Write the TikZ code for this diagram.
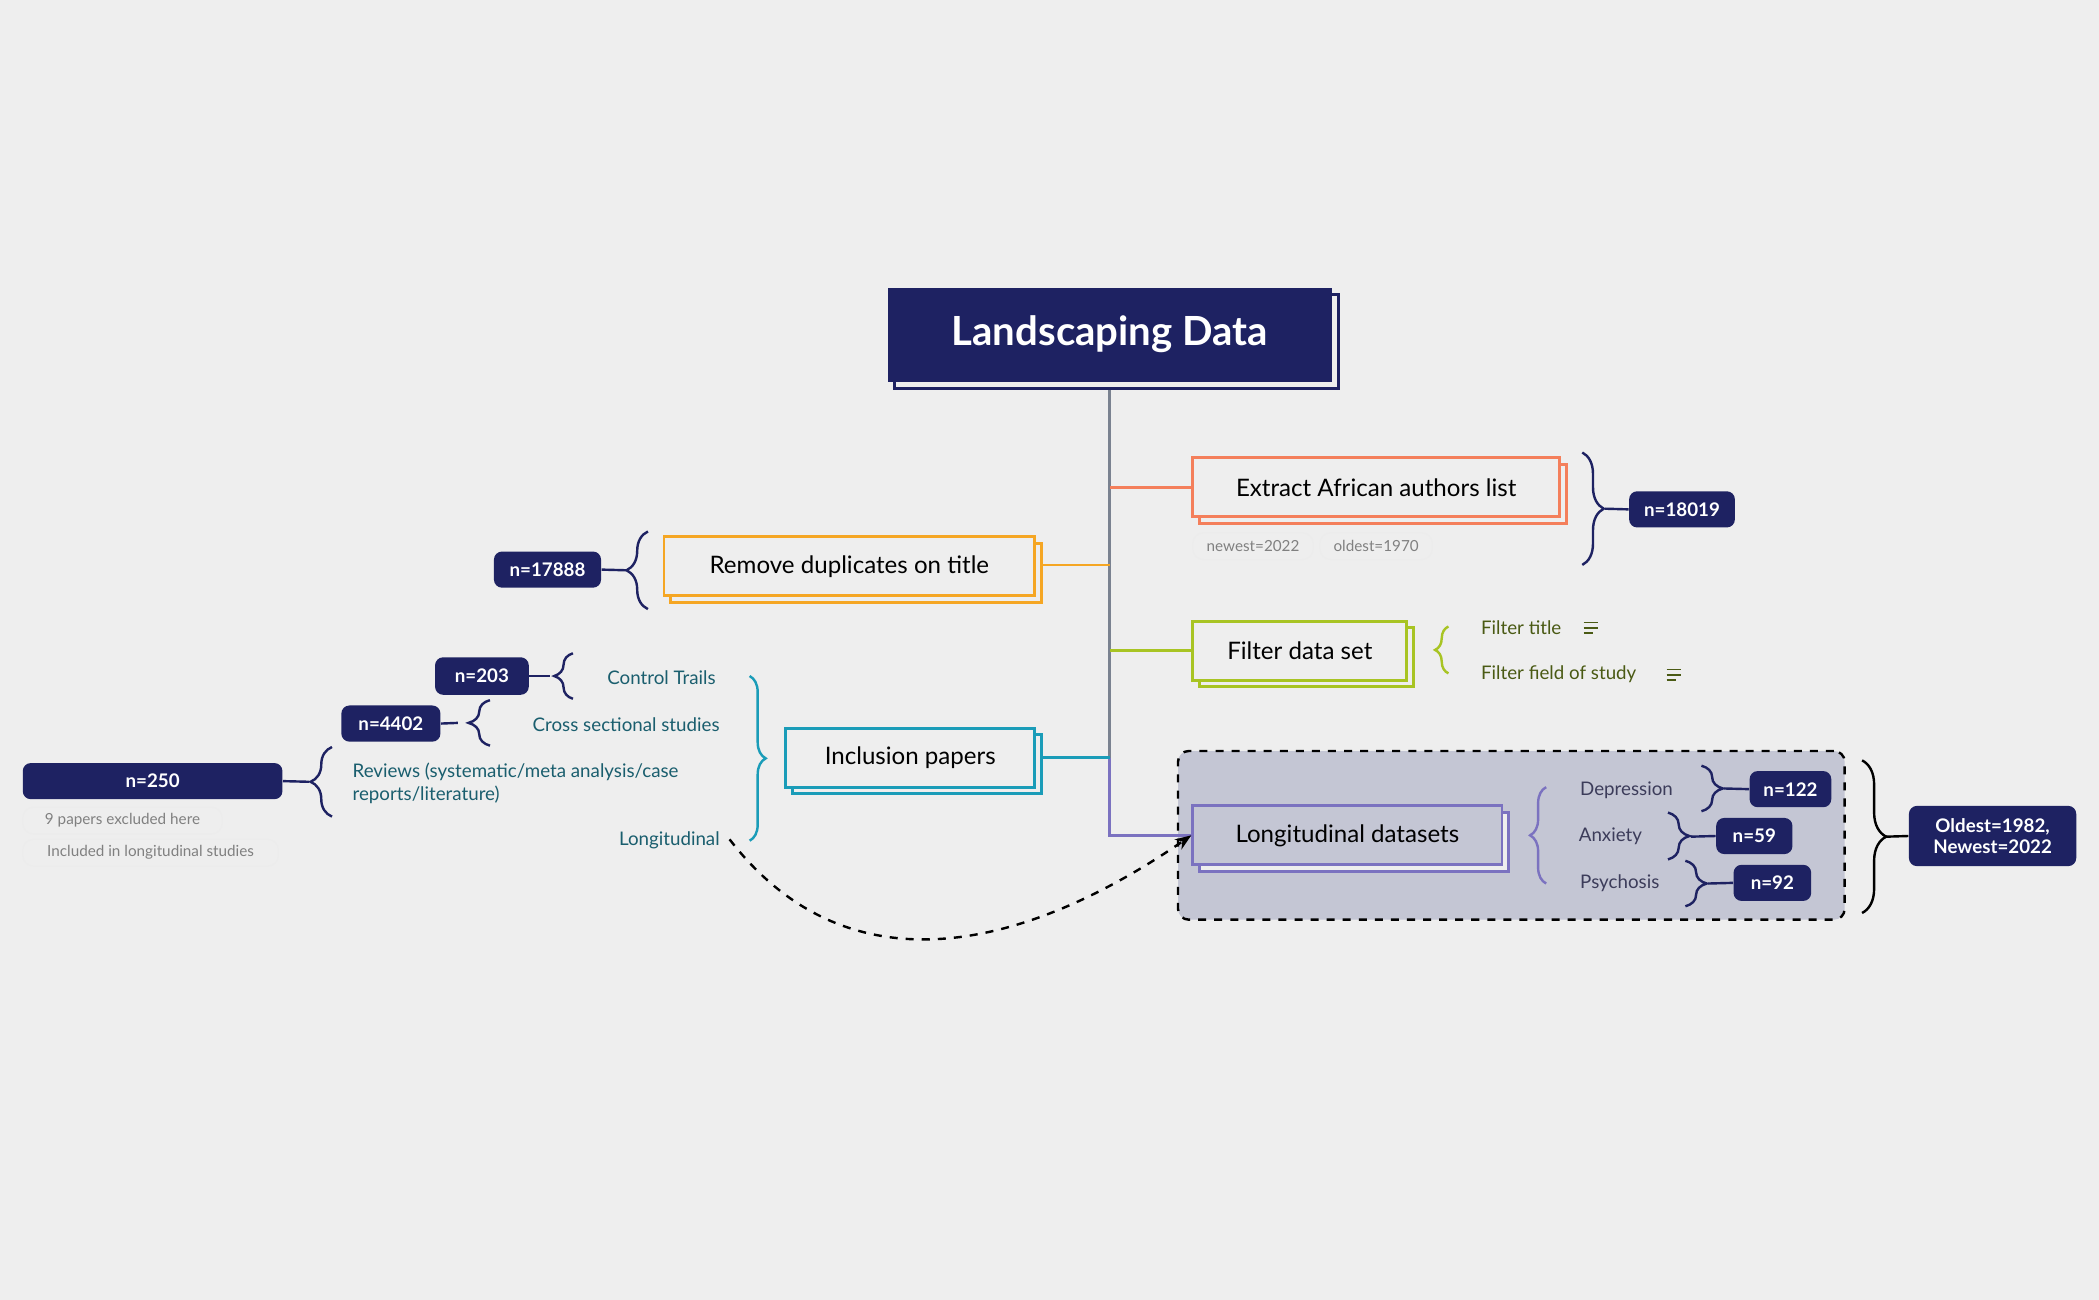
\documentclass[tikz,border=0pt]{standalone}
\usepackage{fontspec}
\setmainfont{Lato}
\usetikzlibrary{decorations.pathreplacing,arrows.meta,shadows}
\definecolor{bg}{HTML}{EEEEEE}
\definecolor{navy}{HTML}{1E2262}
\definecolor{cOr}{HTML}{F47F5B}
\definecolor{cYe}{HTML}{F5A623}
\definecolor{cGr}{HTML}{A8C423}
\definecolor{cTe}{HTML}{1A9CB8}
\definecolor{cPu}{HTML}{7B72C0}
\definecolor{grpfill}{HTML}{C4C6D4}
\definecolor{tTe}{HTML}{1A5E6E}
\definecolor{tOl}{HTML}{4A5A14}
\definecolor{tPu}{HTML}{3C3C5A}
\definecolor{trunk}{HTML}{7A8290}
\tikzset{
 px/.style={x=0.5pt,y=-0.5pt},
 mainbox/.style={draw=#1,line width=1.1pt,fill=bg,inner sep=0pt,font=\fontsize{9}{11}\selectfont,text=black,copy shadow={shadow xshift=2.5pt,shadow yshift=-2.5pt,draw=#1,fill=bg,line width=1.1pt}},
 pill/.style={fill=navy,text=white,rounded corners=3pt,inner sep=0pt,font=\bfseries\fontsize{7}{8}\selectfont},
 tag/.style={draw=white!85!gray,fill=bg,rounded corners=4pt,inner sep=0pt,text=gray,font=\fontsize{5.7}{7}\selectfont},
 lbl/.style={inner sep=0pt,font=\fontsize{7}{8.5}\selectfont},
 brc/.style={decorate,decoration={brace,amplitude=#1},line width=0.9pt},
}
\begin{document}
\begin{tikzpicture}[px]
\fill[bg] (0,0) rectangle (1568,971);
\useasboundingbox (0,0) rectangle (1568,971);
% group
\node[draw=black,dashed,line width=0.9pt,fill=grpfill,rounded corners=4pt,minimum width=249pt,minimum height=63pt,inner sep=0pt] (grp) at (1129,624) {};
% trunk and branches
\coordinate (t0) at (829,288);
\draw[trunk,line width=1.2pt] (t0) -- (829,566);
\draw[cPu,line width=1.2pt] (829,566) -- (829,624) -- (891,624);
\node[mainbox=cOr,minimum width=137pt,minimum height=22pt] (ext) at (1028,364) {Extract African authors list};
\node[mainbox=cYe,minimum width=138.5pt,minimum height=22pt] (rem) at (634.5,423) {Remove duplicates on title};
\node[mainbox=cGr,minimum width=80pt,minimum height=22pt] (fil) at (971,486) {Filter data set};
\node[mainbox=cTe,minimum width=93pt,minimum height=22pt] (inc) at (680,566) {Inclusion papers};
\node[mainbox=cPu,minimum width=115.5pt,minimum height=22pt,fill=grpfill] (lon) at (1006.5,624) {Longitudinal datasets};
\draw[cOr,line width=1pt] (829,364) -- (ext.west);
\draw[cYe,line width=1pt] (829,422) -- (778,422);
\draw[cGr,line width=1pt] (829,486) -- (fil.west);
\draw[cTe,line width=1pt] (829,566) -- (778,566);
% title
\draw[navy,line width=1pt,fill=bg] (668,220) rectangle (1000,290);
\node[fill=navy,text=white,font=\bfseries\fontsize{15}{18}\selectfont,minimum width=166pt,minimum height=35pt,inner sep=0pt] (title) at (829,250) {Landscaping Data};
% extract
\node[tag,minimum width=45pt,minimum height=10pt] (tg1) at (936,408) {newest=2022};
\node[tag,minimum width=42pt,minimum height=10pt] (tg2) at (1028,408) {oldest=1970};
\draw[navy,brc=8pt] (1182,338) -- (1182,422);
\node[pill,minimum width=39.5pt,minimum height=13.5pt] (p1) at (1256.5,380.5) {n=18019};
\draw[navy,line width=0.9pt] (1199,380) -- (p1.west);
% remove
\draw[navy,brc=8pt] (484,455) -- (484,397);
\node[pill,minimum width=40pt,minimum height=13.5pt] (p2) at (409,425.5) {n=17888};
\draw[navy,line width=0.9pt] (p2.east) -- (468,426);
% filter
\draw[cGr,brc=5pt] (1082,503) -- (1082,468);
\node[lbl,text=tOl,anchor=west] (f1) at (1106,469) {Filter title};
\node[lbl,text=tOl,anchor=west] (f2) at (1106,504) {Filter field of study};
\draw[tOl,line width=0.6pt] (1183,465)--(1194,465) (1183,469)--(1194,469) (1183,473)--(1190,473);
\draw[tOl,line width=0.6pt] (1245,500)--(1256,500) (1245,504)--(1256,504) (1245,508)--(1252,508);
% inclusion
\draw[cTe,brc=6pt] (560,505) -- (560,628);
\node[lbl,text=tTe,anchor=east] (ct) at (535,506) {Control Trails};
\node[lbl,text=tTe,anchor=east] (cs) at (538,541) {Cross sectional studies};
\node[lbl,text=tTe,anchor=west,align=left] (rv) at (263,585) {Reviews (systematic/meta analysis/case\\reports/literature)};
\node[lbl,text=tTe,anchor=east] (lg) at (538,628) {Longitudinal};
\draw[navy,brc=7pt] (428,522) -- (428,488);
\node[pill,minimum width=35pt,minimum height=14pt] (p3) at (360,505) {n=203};
\draw[navy,line width=0.9pt] (p3.east) -- (411,505);
\draw[navy,brc=8pt] (366,557) -- (366,523);
\node[pill,minimum width=37pt,minimum height=13.5pt] (p4) at (292,540.5) {n=4402};
\draw[navy,line width=0.9pt] (p4.east) -- (342,540);
\draw[navy,brc=8pt] (248,610) -- (248,558);
\node[pill,minimum width=97pt,minimum height=13.5pt] (p5) at (114,583.5) {n=250};
\draw[navy,line width=0.9pt] (p5.east) -- (231,584);
\node[tag,minimum width=74.5pt,minimum height=10pt] (tg3) at (91.5,613) {9 papers excluded here};
\node[tag,minimum width=95.5pt,minimum height=10pt] (tg4) at (112.5,637) {Included in longitudinal studies};
% curve
\draw[dashed,line width=0.9pt,-{Stealth[length=6pt]}] (545,627) .. controls (640,750) and (780,700) .. (lon.west);
% longitudinal items
\draw[cPu,brc=6pt] (1155,660) -- (1155,588);
\node[lbl,text=tPu] (d1) at (1215,590) {Depression};
\node[lbl,text=tPu] (d2) at (1203,625) {Anxiety};
\node[lbl,text=tPu] (d3) at (1210,660) {Psychosis};
\draw[navy,brc=8pt] (1271,572) -- (1271,606);
\node[pill,minimum width=30.5pt,minimum height=13.5pt] (p6) at (1337.5,589.5) {n=122};
\draw[navy,line width=0.9pt] (1288,589) -- (p6.west);
\draw[navy,brc=8pt] (1246,607) -- (1246,642);
\node[pill,minimum width=28.5pt,minimum height=13.5pt] (p7) at (1310.5,624.5) {n=59};
\draw[navy,line width=0.9pt] (1263,625) -- (p7.west);
\draw[navy,brc=8pt] (1259,643) -- (1259,677);
\node[pill,minimum width=29pt,minimum height=13.5pt] (p8) at (1324,659.5) {n=92};
\draw[navy,line width=0.9pt] (1276,660) -- (p8.west);
% big brace
\draw[black,brc=9pt] (1391,568) -- (1391,682);
\node[pill,minimum width=62.5pt,minimum height=22.5pt,align=center] (p9) at (1488.5,624.5) {Oldest=1982,\\Newest=2022};
\draw[black,line width=0.9pt] (1409,625) -- (p9.west);
\end{tikzpicture}
\end{document}
